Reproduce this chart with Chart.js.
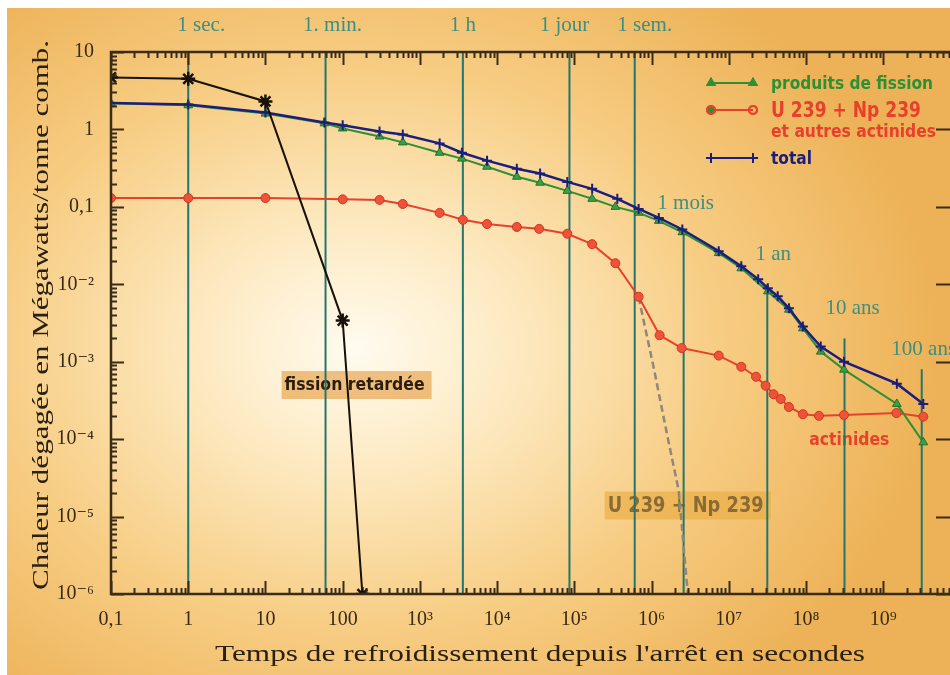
<!DOCTYPE html>
<html lang="fr">
<head>
<meta charset="utf-8">
<title>Chaleur résiduelle après l'arrêt</title>
<script src="https://cdn.jsdelivr.net/npm/chart.js@4.4.1/dist/chart.umd.min.js"></script>
<style>
  html, body { margin: 0; padding: 0; background: #fff; }
  #wrap { position: relative; width: 950px; height: 675px; overflow: hidden; }
  #bg {
    position: absolute; left: 7px; top: 8px; right: 0; bottom: 0;
    background: radial-gradient(ellipse 580px 450px at 350px 340px,
      #fffbef 0%, #fde9c0 28%, #f7cd84 62%, #edb257 100%);
  }
  canvas { position: absolute; left: 0; top: 0; }
</style>
</head>
<body>
<div id="wrap">
  <div id="bg"></div>
  <canvas id="chart" width="950" height="675"></canvas>
</div>
<script>
// ===== Données (temps en s, puissance en MW / tonne) =====
const tRetardee = [0.1, 1, 10, 100, 180];
const pRetardee = [4.7, 4.5, 2.3, 0.0034, 0.000001];

const tFission = [0.1, 1, 10, 58, 100, 300, 600, 1800, 3500, 7400, 18000, 36000, 81000,
  170000, 340000, 680000, 1.24e6, 2.5e6, 7.4e6, 1.45e7, 3.2e7, 6e7, 9.1e7, 1.55e8, 3.1e8, 1.5e9, 3.3e9];
const pFission = [2.18, 2.05, 1.6, 1.2, 1.03, 0.81, 0.68, 0.5, 0.42, 0.33, 0.245, 0.205, 0.161,
  0.127, 0.1, 0.084, 0.066, 0.047, 0.0253, 0.0161, 0.0081, 0.0047, 0.0027, 0.00135, 0.00079, 0.000285, 0.000091];

const tTotal = [0.1, 1, 10, 58, 100, 300, 600, 1800, 3500, 7400, 18000, 36000, 81000,
  170000, 360000, 680000, 1.24e6, 2.5e6, 7.4e6, 1.45e7, 2.4e7, 3.2e7, 4.3e7, 6e7, 9.1e7, 1.55e8, 3.1e8, 1.5e9, 3.3e9];
const pTotal = [2.2, 2.1, 1.65, 1.23, 1.13, 0.94, 0.86, 0.66, 0.5, 0.395, 0.31, 0.27, 0.21,
  0.171, 0.127, 0.094, 0.072, 0.051, 0.0268, 0.0171, 0.0116, 0.0089, 0.007, 0.0049, 0.00285, 0.00157, 0.001, 0.00052, 0.000285];

const tActinides = [0.1, 1, 10, 100, 300, 600, 1800, 3600, 7400, 18000, 35000, 81000, 170000,
  340000, 680000, 1.27e6, 2.45e6, 7.4e6, 1.45e7, 2.25e7, 3e7, 3.8e7, 4.7e7, 6e7, 9.1e7, 1.47e8, 3.1e8, 1.48e9, 3.3e9];
const pActinides = [0.13, 0.13, 0.13, 0.125, 0.123, 0.109, 0.0836, 0.068, 0.06, 0.055, 0.052, 0.045, 0.033,
  0.0187, 0.0069, 0.0022, 0.0015, 0.0012, 0.00086, 0.00064, 0.00049, 0.00038, 0.00033, 0.00026, 0.00021, 0.0002, 0.000205, 0.000217, 0.000195];

// U 239 + Np 239 seuls (tirets)
const tU239 = [6.8e5, 1.07e6, 1.6e6, 2.24e6, 2.77e6, 2.95e6];
const pU239 = [0.0068, 0.00082, 0.00011, 0.000022, 0.000002, 0.000001];

// ===== Repères de temps =====
const repereTemps = [1, 60, 3600, 86400, 604800, 2.6e6, 3.15e7, 3.15e8, 3.15e9];
const repereNoms = ["1 sec.", "1. min.", "1 h", "1 jour", "1 sem.", "1 mois", "1 an", "10 ans", "100 ans"];
const repereHaut = [10, 10, 10, 10, 10, 0.052, 0.01, 0.002, 0.0008];
const repereTexteY = [null, null, null, null, null, 0.109, 0.0245, 0.0049, 0.00144];
const repereDecalage = [13, 7, 0, -5, 10, 2, 6, 8, 2]; // décalage horizontal du nom, px

// ===== Graduations =====
const xTicks = [0.1, 1, 10, 100, 1e3, 1e4, 1e5, 1e6, 1e7, 1e8, 1e9];
const xTickLabels = ["0,1", "1", "10", "100", "10³", "10⁴", "10⁵", "10⁶", "10⁷", "10⁸", "10⁹"];
const yTicks = [1e-6, 1e-5, 1e-4, 1e-3, 1e-2, 0.1, 1, 10];
const yTickLabels = ["10⁻⁶", "10⁻⁵", "10⁻⁴", "10⁻³", "10⁻²", "0,1", "1", "10"];

const xTitre = "Temps de refroidissement depuis l'arrêt en secondes";
const yTitre = "Chaleur dégagée en Mégawatts/tonne comb.";

// ===== Styles =====
const SERIF = "'Liberation Serif', 'DejaVu Serif', serif";
const SANS = "'DejaVu Sans', 'Noto Sans', sans-serif";
const C_FISSION = "#2f8f35";
const C_ACTIN = "#e8412b";
const C_TOTAL = "#1b1f7c";
const C_RETARD = "#17110a";
const C_REPERE = "#23766e";
const C_TEXTE_REPERE = "#3d8f80";
const C_AXE = "#3a2c18";

const pts = (ts, ps) => ts.map((t, i) => ({ x: t, y: ps[i] }));

function labelFor(value, ticks, labels) {
  const i = ticks.findIndex(t => Math.abs(Math.log10(t) - Math.log10(value)) < 1e-6);
  return i >= 0 ? labels[i] : "";
}
function isDecade(v) {
  const l = Math.log10(v);
  return Math.abs(l - Math.round(l)) < 1e-6;
}
function isIntSignificand(v) {
  const s = v / Math.pow(10, Math.floor(Math.log10(v) + 1e-9));
  return Math.abs(s - Math.round(s)) < 1e-6;
}

// texte étiré horizontalement jusqu'à une largeur donnée
function stretchedText(ctx, text, cx, cy, width, rot) {
  const w = ctx.measureText(text).width;
  ctx.save();
  ctx.translate(cx, cy);
  if (rot) ctx.rotate(rot);
  ctx.scale(width / w, 1);
  ctx.textAlign = "center";
  ctx.textBaseline = "middle";
  ctx.fillText(text, 0, 0);
  ctx.restore();
}

// textes posés sur le graphique (ancrés en coordonnées de données)
const notes = [
  { texte: "fission retardée", x: 17.7, y: 5.0e-4, w: 140, font: "bold 17px " + SANS, color: "#2b1d0e", box: "rgba(226,146,48,0.55)" },
  { texte: "U 239 + Np 239", x: 2.7e5, y: 1.39e-5, w: 156, font: "bold 21px " + SANS, color: "#8a6b36", box: "rgba(232,170,62,0.6)" },
  { texte: "actinides", x: 1.1e8, y: 1.0e-4, w: 80, font: "bold 18px " + SANS, color: C_ACTIN, box: null }
];

const decor = {
  id: "decor",
  beforeDatasetsDraw(chart) {
    const { ctx } = chart;
    const x = chart.scales.x, y = chart.scales.y;
    ctx.save();
    notes.forEach(n => {
      const px = x.getPixelForValue(n.x), py = y.getPixelForValue(n.y);
      ctx.font = n.font;
      if (n.box) {
        ctx.fillStyle = n.box;
        ctx.fillRect(px - 3, py - 14, n.w + 10, 28);
      }
      ctx.fillStyle = n.color;
      ctx.textBaseline = "middle";
      ctx.textAlign = "left";
      ctx.fillText(n.texte, px, py + 1, n.w);
    });
    ctx.restore();
  },
  afterDatasetsDraw(chart) {
    const { ctx, chartArea: a } = chart;
    const x = chart.scales.x, y = chart.scales.y;
    ctx.save();

    // graduations intérieures sur les quatre côtés
    ctx.strokeStyle = C_AXE;
    ctx.lineWidth = 2;
    ctx.beginPath();
    x.ticks.forEach(t => {
      if (!isIntSignificand(t.value)) return;
      const px = Math.round(x.getPixelForValue(t.value)) + 0.5;
      const len = isDecade(t.value) ? 13 : 6;
      ctx.moveTo(px, a.bottom); ctx.lineTo(px, a.bottom - len);
      ctx.moveTo(px, a.top); ctx.lineTo(px, a.top + len);
    });
    y.ticks.forEach(t => {
      if (!isIntSignificand(t.value)) return;
      const py = Math.round(y.getPixelForValue(t.value)) + 0.5;
      const len = isDecade(t.value) ? 13 : 6;
      ctx.moveTo(a.left, py); ctx.lineTo(a.left + len, py);
      if (isDecade(t.value)) { ctx.moveTo(a.right + 2, py); ctx.lineTo(a.right - len, py); }
    });
    ctx.stroke();

    // cadre (le bord droit est hors de l'image)
    ctx.lineWidth = 2.5;
    ctx.beginPath();
    ctx.moveTo(a.right + 2, a.top); ctx.lineTo(a.left, a.top);
    ctx.lineTo(a.left, a.bottom); ctx.lineTo(a.right + 2, a.bottom);
    ctx.stroke();

    // titres des axes
    ctx.fillStyle = "#2a200f";
    ctx.font = "24px " + SERIF;
    stretchedText(ctx, xTitre, 540, 655, 650, 0);
    stretchedText(ctx, yTitre, 42, 315, 550, -Math.PI / 2);

    // noms des repères
    ctx.font = "21px " + SERIF;
    ctx.fillStyle = C_TEXTE_REPERE;
    ctx.textAlign = "center";
    ctx.textBaseline = "middle";
    repereTemps.forEach((t, i) => {
      const px = x.getPixelForValue(t);
      const py = repereTexteY[i] === null ? a.top - 27 : y.getPixelForValue(repereTexteY[i]);
      ctx.fillText(repereNoms[i], px + repereDecalage[i], py);
    });

    // légende
    const lx = a.right - 238, rows = [
      { y: a.top + 31, color: C_FISSION, style: "triangle", texte: "produits de fission", font: "bold 18px " + SANS, w: 162 },
      { y: a.top + 58, color: C_ACTIN, style: "circle", texte: "U 239 + Np 239", font: "bold 22px " + SANS, w: 150 },
      { y: a.top + 106, color: C_TOTAL, style: "cross", texte: "total", font: "bold 18px " + SANS, w: 41 }
    ];
    rows.forEach(r => {
      ctx.strokeStyle = r.color;
      ctx.lineWidth = 2;
      ctx.beginPath(); ctx.moveTo(lx, r.y); ctx.lineTo(lx + 42, r.y); ctx.stroke();
      [lx, lx + 42].forEach(px => {
        Chart.helpers.drawPoint(ctx, {
          pointStyle: r.style, radius: r.style === "cross" ? 5 : 4, borderWidth: 2
        }, px, r.y);
        ctx.fillStyle = r.style === "circle" ? "rgba(0,0,0,0)" : r.color;
        ctx.strokeStyle = r.color;
        ctx.fill(); ctx.stroke();
      });
      ctx.font = r.font;
      ctx.fillStyle = r.color;
      ctx.textAlign = "left";
      ctx.fillText(r.texte, lx + 60, r.y + 1, r.w);
    });
    ctx.font = "bold 17px " + SANS;
    ctx.fillStyle = C_ACTIN;
    ctx.fillText("et autres actinides", lx + 60, a.top + 81, 165);

    ctx.restore();
  }
};

// ===== Jeux de données =====
const datasets = [
  {
    label: "fission retardée", data: pts(tRetardee, pRetardee),
    borderColor: C_RETARD, backgroundColor: C_RETARD, borderWidth: 2,
    pointStyle: "star", pointRadius: 7, pointBorderWidth: 2.5, order: 1
  },
  {
    label: "total", data: pts(tTotal, pTotal),
    borderColor: C_TOTAL, backgroundColor: C_TOTAL, borderWidth: 2.5,
    pointStyle: "cross", pointRadius: 5, pointBorderWidth: 2, order: 2
  },
  {
    label: "produits de fission", data: pts(tFission, pFission),
    borderColor: C_FISSION, backgroundColor: "#3aa048", borderWidth: 2,
    pointStyle: "triangle", pointRadius: 5, pointBorderWidth: 1, pointBorderColor: "#23702a", order: 3
  },
  {
    label: "U 239 + Np 239 et autres actinides", data: pts(tActinides, pActinides),
    borderColor: C_ACTIN, backgroundColor: "#ee5238", borderWidth: 2,
    pointStyle: "circle", pointRadius: 4.5, pointBorderWidth: 1, pointBorderColor: "#d23420", order: 4
  },
  {
    label: "U 239 + Np 239", data: pts(tU239, pU239),
    borderColor: "#8e877c", borderWidth: 2.5, borderDash: [7, 4],
    pointRadius: 0, order: 5
  }
];
repereTemps.forEach((t, i) => {
  datasets.push({
    label: repereNoms[i],
    data: [{ x: t, y: repereHaut[i] }, { x: t, y: 1e-6 }],
    borderColor: C_REPERE, borderWidth: 2, pointRadius: 0, order: 10
  });
});

new Chart(document.getElementById("chart"), {
  type: "line",
  data: { datasets },
  options: {
    responsive: false,
    animation: false,
    events: [],
    layout: { autoPadding: false, padding: { left: 0, top: 52, right: 1, bottom: 0 } },
    plugins: { legend: { display: false }, tooltip: { enabled: false } },
    scales: {
      x: {
        type: "logarithmic", min: 0.1, max: 7.1e9,
        // marques de graduation transparentes : elles ne servent qu'à décaler les étiquettes
        grid: { display: true, drawOnChartArea: false, drawTicks: true, tickLength: 14, color: "rgba(0,0,0,0)" },
        border: { display: false },
        ticks: {
          autoSkip: false, maxRotation: 0, padding: 0, color: "#3a2a14",
          font: { family: SERIF, size: 20 },
          callback: v => labelFor(v, xTicks, xTickLabels)
        },
        afterFit: s => { s.height = 81; }
      },
      y: {
        type: "logarithmic", min: 1e-6, max: 10,
        grid: { display: false, drawTicks: false }, border: { display: false },
        ticks: {
          autoSkip: false, padding: 17, color: "#3a2a14",
          font: { family: SERIF, size: 20 },
          callback: v => labelFor(v, yTicks, yTickLabels)
        },
        afterFit: s => { s.width = 111; }
      }
    }
  },
  plugins: [decor]
});
</script>
</body>
</html>
